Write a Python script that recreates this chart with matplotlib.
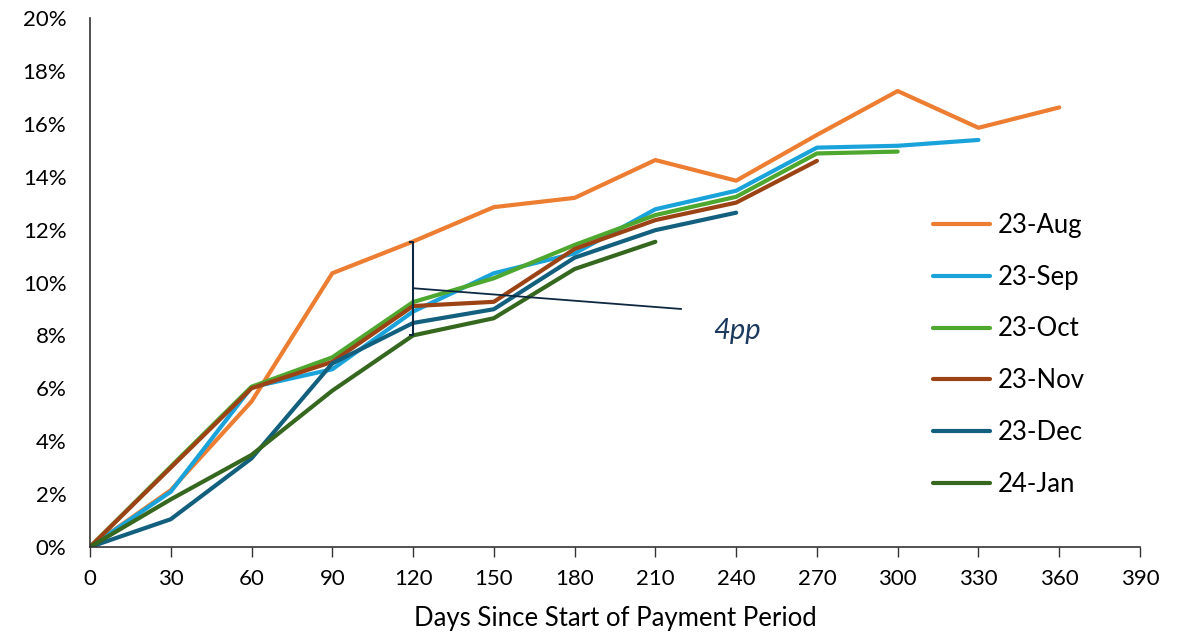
import matplotlib
matplotlib.use("Agg")
import matplotlib.pyplot as plt
from matplotlib.ticker import PercentFormatter

plt.rcParams['font.family'] = ['Lato', 'DejaVu Sans']

days = [0, 30, 60, 90, 120, 150, 180, 210, 240, 270, 300, 330, 360]

aug = [0, 2.15, 5.5, 10.35, 11.55, 12.85, 13.2, 14.63, 13.85, 15.58, 17.24, 15.85, 16.62]
sep = [0, 2.09, 6.04, 6.72, 8.9, 10.35, 11.1, 12.77, 13.47, 15.1, 15.17, 15.39]
oct_ = [0, 3.04, 6.06, 7.17, 9.26, 10.16, 11.42, 12.55, 13.24, 14.88, 14.95]
nov = [0, 3.0, 6.0, 7.0, 9.11, 9.27, 11.27, 12.36, 13.02, 14.6]
dec = [0, 1.05, 3.35, 6.94, 8.47, 8.99, 10.94, 11.98, 12.64]
jan = [0, 1.8, 3.48, 5.91, 8.0, 8.65, 10.51, 11.54]

labels = ['23-Aug', '23-Sep', '23-Oct', '23-Nov', '23-Dec', '24-Jan']
colors = ['#ED7D31', '#1AA3DA', '#4EA72E', '#9C4316', '#12607E', '#36671F']
series = [aug, sep, oct_, nov, dec, jan]

fig = plt.figure(figsize=(11.87, 6.37), dpi=100)
ax = fig.add_axes([0.0758, 0.1413, 0.8846, 0.8304])

for vals, lab, col in zip(series, labels, colors):
    ax.plot(days[:len(vals)], vals, color=col, lw=3, label=lab, solid_capstyle='round')

# 4pp bracket at day 120
navy = '#0E2841'
top, bot = aug[4], jan[4]
ax.plot([119.0, 120, 120, 119.0], [top, top, bot, bot], color=navy, lw=1.5, zorder=5)
ax.plot([120.5, 219.5], [9.78, 9.0], color=navy, lw=1.3, zorder=5)
ax.text(240.5, 8.15, '4pp', color='#1B3A5E', fontsize=21, style='italic',
        ha='center', va='center')

ax.set_xlim(0, 390)
ax.set_ylim(0, 20)
ax.set_xticks(range(0, 391, 30))
ax.set_yticks(range(0, 21, 2))
ax.yaxis.set_major_formatter(PercentFormatter(decimals=0))
ax.tick_params(axis='x', length=7, width=1, colors='#333333', labelcolor='black', labelsize=16, pad=9)
ax.tick_params(axis='y', length=0, labelsize=16, pad=17)
for s in ['top', 'right']:
    ax.spines[s].set_visible(False)
for s in ['left', 'bottom']:
    ax.spines[s].set_color('#333333')
    ax.spines[s].set_linewidth(1.2)

ax.set_xlabel('Days Since Start of Payment Period', fontsize=18.5, labelpad=12)

ax.legend(loc='upper left', bbox_to_anchor=(0.781, 0.676), frameon=False, fontsize=18.5,
          handlelength=2.2, labelspacing=1.05, handletextpad=0.3)

fig.savefig('out.png', dpi=100)
